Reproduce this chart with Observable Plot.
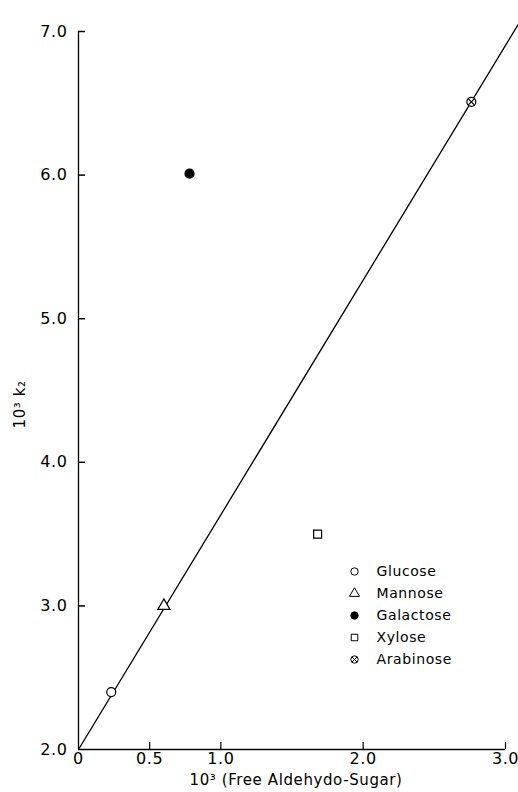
<!DOCTYPE html>
<html>
<head>
<meta charset="utf-8">
<script src="https://cdn.jsdelivr.net/npm/d3@7"></script>
<script src="https://cdn.jsdelivr.net/npm/@observablehq/plot@0.6"></script>
<style>
  html, body { margin: 0; padding: 0; background: white; }
  #wrap { position: relative; width: 518px; height: 792px; }
  #legend { position: absolute; left: 345px; top: 560px; }
  svg text { letter-spacing: 0.6px; }
</style>
</head>
<body>
<div id="wrap"><div id="chart"></div><div id="legend"></div></div>
<script>
const sugarNames = ["Glucose", "Mannose", "Galactose", "Xylose", "Arabinose"];
const freeAldehydo = [0.23, 0.60, 0.78, 1.68, 2.76];
const k2 = [2.40, 3.00, 6.01, 3.50, 6.51];
const fitX = [0, 3.09];
const fitY = [2.0, 7.05];
const xTicks = [0, 0.5, 1.0, 2.0, 3.0];
const xTickLabels = ["0", "0.5", "1.0", "2.0", "3.0"];
const yTicks = [2, 3, 4, 5, 6, 7];
const yTickLabels = ["2.0", "3.0", "4.0", "5.0", "6.0", "7.0"];
const xTitle = "10³ (Free Aldehydo-Sugar)";
const yTitle = "10³ k₂";

const data = sugarNames.map((name, i) => ({name, x: freeAldehydo[i], y: k2[i]}));
const fit = fitX.map((x, i) => ({x, y: fitY[i]}));
const crossed = data.filter(d => d.name === "Arabinose");

const symbolScale = {domain: sugarNames, range: ["circle", "triangle", "circle", "square", "circle"]};
const colorScale = {type: "ordinal", domain: sugarNames, range: ["white", "white", "black", "white", "white"]};
const font = "DejaVu Sans, sans-serif";

const chart = Plot.plot({
  width: 518, height: 792,
  marginLeft: 78, marginRight: 13, marginTop: 31, marginBottom: 43,
  style: {fontFamily: font, background: "white", color: "black", overflow: "visible"},
  x: {domain: [0, 3]},
  y: {domain: [2, 7]},
  symbol: symbolScale,
  color: colorScale,
  marks: [
    Plot.ruleX([0], {strokeWidth: 1.3}),
    Plot.ruleY([2], {strokeWidth: 1.5}),
    Plot.tickY(yTicks.slice(1), {y: d => d, insetRight: 420, strokeWidth: 1.5}),
    Plot.tickX(xTicks.slice(1), {x: d => d, insetTop: 711, strokeWidth: 1.2}),
    Plot.axisY({ticks: yTicks, tickSize: 0, tickPadding: 11, label: null, fontSize: 16,
      tickFormat: (d) => yTickLabels[yTicks.indexOf(d)]}),
    Plot.axisX({ticks: xTicks, tickSize: 0, tickPadding: 3, label: null, fontSize: 16,
      tickFormat: (d) => xTickLabels[xTicks.indexOf(d)]}),
    Plot.line(fit, {x: "x", y: "y", strokeWidth: 1.3, stroke: "black"}),
    Plot.dot(data, {x: "x", y: "y", symbol: "name", fill: "name", stroke: "black", r: 4.5, strokeWidth: 1.2}),
    Plot.dot(crossed, {x: "x", y: "y", symbol: "times", r: 3, stroke: "black", strokeWidth: 1.2}),
    Plot.text([xTitle], {frameAnchor: "bottom", dy: 35, dx: 4, fontSize: 15, text: d => d, fill: "black"}),
    Plot.text([yTitle], {frameAnchor: "left", rotate: -90, dx: -58, dy: 38, fontSize: 15, text: d => d, fill: "black"})
  ]
});
document.getElementById("chart").append(chart);

const legend = Plot.plot({
  width: 130, height: 110, margin: 0,
  style: {fontFamily: font, background: "transparent", color: "black", overflow: "visible"},
  x: {axis: null, domain: [0, 1]},
  y: {axis: null, type: "point", domain: sugarNames, range: [11, 99], padding: 0},
  symbol: symbolScale,
  color: colorScale,
  marks: [
    Plot.dot(sugarNames, {frameAnchor: "left", dx: 9, y: d => d, symbol: d => d, fill: d => d, stroke: "black", r: 3.7, strokeWidth: 1}),
    Plot.dot(sugarNames.filter(n => n === "Arabinose"), {frameAnchor: "left", dx: 9, y: d => d, symbol: "times", r: 2.4, stroke: "black", strokeWidth: 1}),
    Plot.text(sugarNames, {frameAnchor: "left", dx: 31, y: d => d, text: d => d, textAnchor: "start", fontSize: 14, fill: "black"})
  ]
});
document.getElementById("legend").append(legend);
</script>
</body>
</html>
